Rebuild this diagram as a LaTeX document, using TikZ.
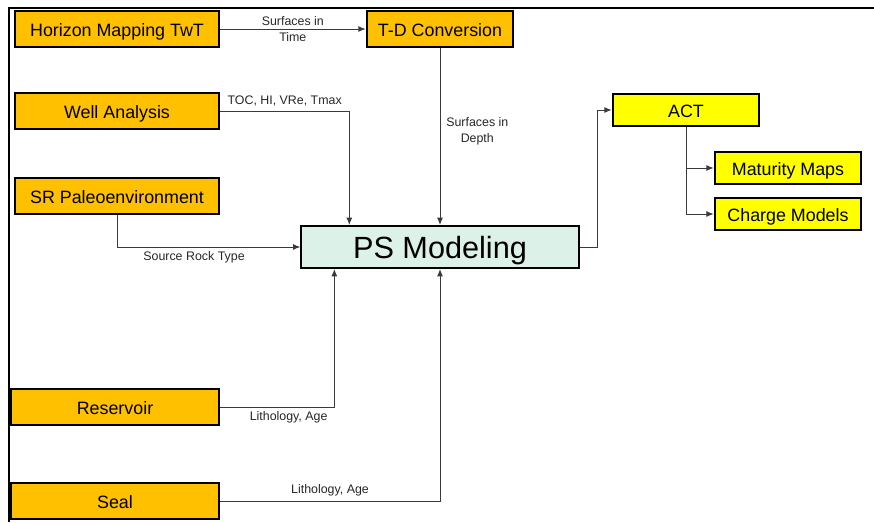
\documentclass[tikz,border=0pt]{standalone}
\usepackage{fontspec}
\setmainfont{Liberation Sans}
\usetikzlibrary{arrows.meta,calc}

\definecolor{boxorange}{HTML}{FFC000}
\definecolor{boxyellow}{HTML}{FFFF00}
\definecolor{boxmint}{HTML}{DCF1E7}
\definecolor{linegray}{HTML}{3A3A3A}

\begin{document}
\begin{tikzpicture}[x=0.75pt,y=-0.75pt,
    box/.style={draw=black,line width=1.5pt,inner sep=0pt,text height=10.6pt,text depth=0pt,
      font=\fontsize{13.4}{15}\selectfont},
    input/.style={box,fill=boxorange,minimum width=153pt,minimum height=27pt},
    output/.style={box,fill=boxyellow,minimum width=110pt,minimum height=24pt},
    conn/.style={draw=linegray,line width=0.75pt,-{Latex[length=5.5pt,width=4.5pt]}},
    lbl/.style={font=\fontsize{9.3}{12}\selectfont,align=center,text=black!85}]
  \useasboundingbox (0,0) rectangle (874,522);

  % frame
  \draw[line width=1.5pt] (874,8) -- (9,8) -- (9,522);

  % input boxes
  \node[input] (hmap) at (117,29) {Horizon Mapping TwT};
  \node[box,fill=boxorange,minimum width=110pt,minimum height=27pt] (tdconv) at (440,29) {T-D Conversion};
  \node[input] (well) at (117,111) {Well Analysis};
  \node[input] (srpal) at (117,196) {SR Paleoenvironment};
  \node[input,minimum width=156pt] (resv) at (115,407) {Reservoir};
  \node[input,minimum width=156pt] (seal) at (115,501) {Seal};

  % model
  \node[box,fill=boxmint,minimum width=208pt,minimum height=31.5pt,text height=17.8pt,
        font=\fontsize{23}{26}\selectfont] (psmod) at (440,247) {PS Modeling};

  % outputs
  \node[output] (act) at (686,110) {ACT};
  \node[output] (matmap) at (788,168) {Maturity Maps};
  \node[output] (chgmod) at (788,214) {Charge Models};

  % connectors
  \draw[conn] (hmap.east) -- node[lbl] {Surfaces in\\Time} (tdconv.west);
  \draw[conn] (tdconv.south) -- node[lbl,right,pos=0.47,xshift=1pt] {Surfaces in\\Depth} (psmod.north);
  \draw[conn] (well.east) -| node[lbl,above,pos=0.25] {TOC, HI, VRe, Tmax}
    ($(psmod.north west)+(49,0)$);
  \draw[conn] (srpal.south) |- node[lbl,below,pos=0.71] {Source Rock Type} (psmod.west);
  \draw[conn] (resv.east) -| node[lbl,below,pos=0.3] {Lithology, Age}
    ($(psmod.south west)+(34,0)$);
  \draw[conn] (seal.east) -| node[lbl,above,pos=0.25] {Lithology, Age} (psmod.south);
  \draw[conn] (psmod.east) -- ++(18,0) |- (act.west);
  \draw[conn] (act.south) |- (matmap.west);
  \draw[conn] (act.south) |- (chgmod.west);
\end{tikzpicture}
\end{document}
